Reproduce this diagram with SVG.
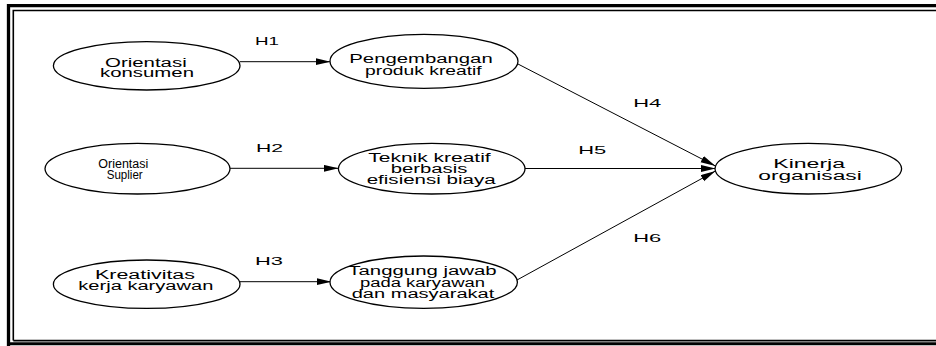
<svg xmlns="http://www.w3.org/2000/svg" width="936" height="346" viewBox="0 0 936 346">
<style>
.node ellipse{fill:#fff;stroke:#000;stroke-width:1.3}
.node text,.lbl{font-family:"Liberation Sans",Arial,sans-serif;font-size:12px;fill:#000}
.lbl{font-size:11px}
.edge{stroke:#000;stroke-width:1;fill:none;marker-end:url(#arr)}
</style>
<defs>
<marker id="arr" markerUnits="userSpaceOnUse" markerWidth="16" markerHeight="8" refX="15" refY="3.5" orient="auto">
<path d="M0,0 L15,3.5 L0,7 z" fill="#000"/>
</marker>
</defs>
<g id="frame">
<path d="M8.5,346 V5.7 H940" fill="none" stroke="#000" stroke-width="3.3"/>
<path d="M8.5,343.7 H940" fill="none" stroke="#000" stroke-width="3"/>
<path d="M13.3,340.6 V10.5 H940 M13.3,340.6 H940" fill="none" stroke="#000" stroke-width="1.6"/>
</g>
<g id="connectors">
<line class="edge" x1="240" y1="61.7" x2="330.5" y2="61.7"/>
<line class="edge" x1="230" y1="168.3" x2="338.5" y2="168.3"/>
<line class="edge" x1="240" y1="281.7" x2="331.5" y2="281.7"/>
<line class="edge" x1="517" y1="63.5" x2="715.5" y2="166"/>
<line class="edge" x1="525" y1="168.5" x2="715.5" y2="168.5"/>
<line class="edge" x1="517" y1="280" x2="715.5" y2="171"/>
<text class="lbl" x="255" y="45" textLength="24" lengthAdjust="spacingAndGlyphs">H1</text>
<text class="lbl" x="256" y="152.3" textLength="27" lengthAdjust="spacingAndGlyphs">H2</text>
<text class="lbl" x="255" y="265" textLength="28" lengthAdjust="spacingAndGlyphs">H3</text>
<text class="lbl" x="633.3" y="107.3" textLength="28" lengthAdjust="spacingAndGlyphs">H4</text>
<text class="lbl" x="578.3" y="154" textLength="28" lengthAdjust="spacingAndGlyphs">H5</text>
<text class="lbl" x="633.3" y="241.7" textLength="28" lengthAdjust="spacingAndGlyphs">H6</text>
</g>
<g id="n1" class="node">
<ellipse cx="146.7" cy="65.8" rx="93.3" ry="24.2"/>
<text x="105" y="66.7" textLength="81.7" lengthAdjust="spacingAndGlyphs">Orientasi</text>
<text x="100" y="77.2" textLength="94" lengthAdjust="spacingAndGlyphs">konsumen</text>
</g>
<g id="n2" class="node">
<ellipse cx="137.5" cy="168.7" rx="92.5" ry="25.3"/>
<text x="98.3" y="168.3" textLength="50" lengthAdjust="spacingAndGlyphs">Orientasi</text>
<text x="106.7" y="178.5" textLength="36" lengthAdjust="spacingAndGlyphs">Suplier</text>
</g>
<g id="n3" class="node">
<ellipse cx="146.7" cy="284.2" rx="93.3" ry="24.2"/>
<text x="95" y="279.3" textLength="100" lengthAdjust="spacingAndGlyphs">Kreativitas</text>
<text x="78.3" y="290" textLength="135" lengthAdjust="spacingAndGlyphs">kerja karyawan</text>
</g>
<g id="n4" class="node">
<ellipse cx="424" cy="61.3" rx="94" ry="27"/>
<text x="349.3" y="63.3" textLength="143.4" lengthAdjust="spacingAndGlyphs">Pengembangan</text>
<text x="365" y="75" textLength="116.7" lengthAdjust="spacingAndGlyphs">produk kreatif</text>
</g>
<g id="n5" class="node">
<ellipse cx="431.7" cy="168.7" rx="93.3" ry="25.3"/>
<text x="368.3" y="161.7" textLength="122.4" lengthAdjust="spacingAndGlyphs">Teknik kreatif</text>
<text x="390.7" y="172.5" textLength="76.6" lengthAdjust="spacingAndGlyphs">berbasis</text>
<text x="366.7" y="184" textLength="129" lengthAdjust="spacingAndGlyphs">efisiensi biaya</text>
</g>
<g id="n6" class="node">
<ellipse cx="423.7" cy="282.2" rx="93.7" ry="26.2"/>
<text x="348.3" y="275" textLength="148.4" lengthAdjust="spacingAndGlyphs">Tanggung jawab</text>
<text x="360" y="286.7" textLength="125" lengthAdjust="spacingAndGlyphs">pada karyawan</text>
<text x="351.7" y="298.3" textLength="142.6" lengthAdjust="spacingAndGlyphs">dan masyarakat</text>
</g>
<g id="n7" class="node">
<ellipse cx="808.3" cy="168.7" rx="93.3" ry="25.3"/>
<text x="773.3" y="168.3" textLength="71.7" lengthAdjust="spacingAndGlyphs">Kinerja</text>
<text x="758.3" y="179.5" textLength="103.4" lengthAdjust="spacingAndGlyphs">organisasi</text>
</g>
</svg>
